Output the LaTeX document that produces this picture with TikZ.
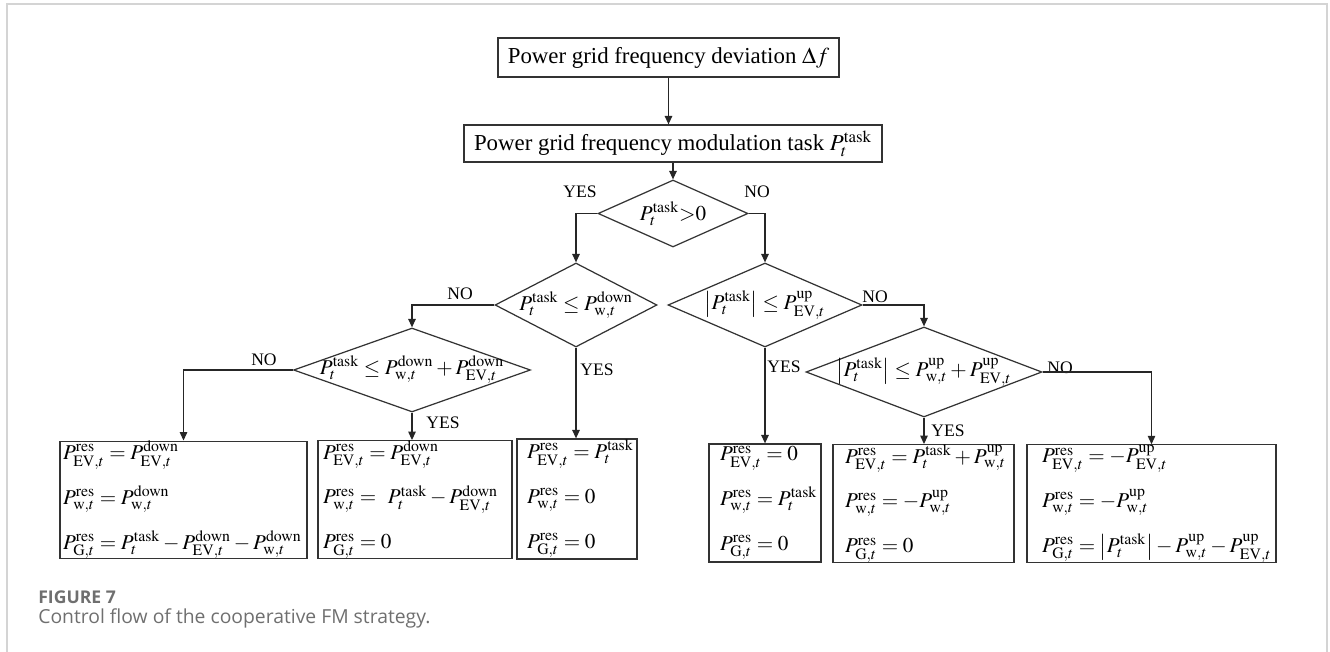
\documentclass[tikz,border=0pt]{standalone}
\usepackage{mathptmx}
\usepackage{fontspec}
\setmainfont{Liberation Serif}
\newfontfamily\legendefont{Open Sans}
\usetikzlibrary{arrows.meta}
\usetikzlibrary{calc,shapes}
\definecolor{cadre}{HTML}{D4D4D4}
\definecolor{legende}{HTML}{6F6F6F}
\newcommand{\puiss}[2]{P_{\mathrm{#1},t}^{\mathrm{#2}}}
\newcommand{\ptache}{P_{t}^{\mathrm{task}}}
\newcommand{\ligne}[1]{\mbox{$#1$}}

\tikzset{
  bloc/.style={draw=black!80, line width=0.7pt, rectangle, inner sep=0pt, font=\fontsize{13}{15}\selectfont},
  resultat/.style={draw=black!80, line width=0.7pt, rectangle, align=left, inner ysep=0pt, font=\fontsize{12}{25.5}\selectfont},
  test/.style={draw=black!80, line width=0.7pt, diamond, inner sep=0pt, font=\fontsize{12}{15}\selectfont},
  reponse/.style={inner sep=0pt, font=\fontsize{10}{12}\selectfont},
  fleche/.style={-{Triangle[length=0.17cm,width=0.15cm]}, line width=0.7pt, black!85},
}

\begin{document}
\begin{tikzpicture}[x=0.02cm, y=-0.02cm]
				\useasboundingbox (0,0) rectangle (1330,652);
				% Cadre
				\draw [cadre, line width=1.1pt] (7,652) -- (7,4) -- (1327,4) -- (1327,652);
				% Boîtes du haut
				\node [bloc, minimum width=6.82cm, minimum height=0.78cm] (ecart) at (668.5,57.5) {Power grid frequency deviation $\Delta f$};
				\node [bloc, minimum width=8.36cm, minimum height=0.74cm] (tache) at (673,143.5) {Power grid frequency modulation task $\ptache$};
				% Losanges
				\node [test, minimum width=3cm, minimum height=1.34cm] (d1) at (673,213.5) {\makebox[0pt]{$\ptache{>}0$}};
				\node [test, minimum width=3.24cm, minimum height=1.68cm] (d2) at (576,305) {\makebox[0pt]{$\ptache \le \puiss{w}{down}$}};
				\node [test, minimum width=3.88cm, minimum height=1.68cm] (d3) at (765,305) {\makebox[0pt]{$\left|\ptache\right| \le \puiss{EV}{up}$}};
				\node [test, minimum width=4.74cm, minimum height=1.68cm] (d4) at (412,370) {\makebox[0pt]{$\ptache \le \puiss{w}{down} + \puiss{EV}{down}$}};
				\node [test, minimum width=4.72cm, minimum height=1.8cm] (d5) at (924,372) {\makebox[0pt]{$\left|\ptache\right| \le \puiss{w}{up} + \puiss{EV}{up}$}};
				% Résultats
				\node [resultat, minimum width=4.94cm, minimum height=2.32cm, text width=4.82cm, inner xsep=0.06cm] (r1) at (183.5,500)
					{\ligne{\puiss{EV}{res} = \puiss{EV}{down}}\\ \ligne{\puiss{w}{res} = \puiss{w}{down}}\\ \ligne{\puiss{G}{res} = \ptache - \puiss{EV}{down} - \puiss{w}{down}}};
				\node [resultat, minimum width=3.88cm, minimum height=2.3cm, text width=3.68cm, inner xsep=0.1cm] (r2) at (415,499.5)
					{\ligne{\puiss{EV}{res} = \puiss{EV}{down}}\\ \ligne{\puiss{w}{res} = \ \ptache - \puiss{EV}{down}}\\ \ligne{\puiss{G}{res} = 0}};
				\node [resultat, minimum width=2.4cm, minimum height=2.4cm, text width=2cm, inner xsep=0.2cm] (r3) at (577,499)
					{\ligne{\puiss{EV}{res} = \ptache}\\ \ligne{\puiss{w}{res} = 0}\\ \ligne{\puiss{G}{res} = 0}};
				\node [resultat, minimum width=2.24cm, minimum height=2.36cm, text width=1.8cm, inner xsep=0.22cm] (r4) at (765,503)
					{\ligne{\puiss{EV}{res} = 0}\\ \ligne{\puiss{w}{res} = \ptache}\\ \ligne{\puiss{G}{res} = 0}};
				\node [resultat, minimum width=3.62cm, minimum height=2.34cm, text width=3.14cm, inner xsep=0.24cm] (r5) at (923.5,503.5)
					{\ligne{\puiss{EV}{res} = \ptache + \puiss{w}{up}}\\ \ligne{\puiss{w}{res} = -\puiss{w}{up}}\\ \ligne{\puiss{G}{res} = 0}};
				\node [resultat, minimum width=4.98cm, minimum height=2.34cm, text width=4.38cm, inner xsep=0.3cm] (r6) at (1151.5,503.5)
					{\ligne{\puiss{EV}{res} = -\puiss{EV}{up}}\\ \ligne{\puiss{w}{res} = -\puiss{w}{up}}\\ \ligne{\puiss{G}{res} = \left|\ptache\right| - \puiss{w}{up} - \puiss{EV}{up}}};
				% Réponses
				\node [reponse] (oui1) at (580,192) {YES};
				\node [reponse] (non1) at (757,192) {NO};
				\node [reponse] (non2) at (460,294) {NO};
				\node [reponse] (oui2) at (597,370) {YES};
				\node [reponse] (non4) at (264,360) {NO};
				\node [reponse] (oui4) at (443,423) {YES};
				\node [reponse] (oui3) at (784,367) {YES};
				\node [reponse] (non3) at (875,297) {NO};
				\node [reponse] (oui5) at (948,431) {YES};
				\node [reponse] (non5) at (1060,368) {NO};
				% Flèches
				\draw [fleche] (ecart.south) -- (ecart.south |- tache.north);
				\draw [fleche] (tache.south) -- (d1.north);
				\draw [fleche] (d1.west) -| (d2.north);
				\draw [fleche] (d1.east) -| (d3.north);
				\draw [fleche] (d2.west) -| (d4.north);
				\draw [fleche] (d2.south) -- (d2.south |- r3.north);
				\draw [fleche] (d4.west) -| (r1.north);
				\draw [fleche] (d4.south) -- (d4.south |- r2.north);
				\draw [fleche] (d3.south) -- (r4.north);
				\draw [fleche] (d3.east) -| (d5.north);
				\draw [fleche] (d5.south) -- (d5.south |- r5.north);
				\draw [fleche] (d5.east) -| (r6.north);
				% Légende
				\node [anchor=west, inner sep=0pt, text=legende, font=\legendefont\bfseries\fontsize{10}{12}\selectfont] (figure) at (38,597) {FIGURE 7};
				\node [anchor=west, inner sep=0pt, text=legende, font=\legendefont\fontsize{11}{13}\selectfont] (titre) at (38,618) {Control flow of the cooperative FM strategy.};
\end{tikzpicture}
\end{document}
